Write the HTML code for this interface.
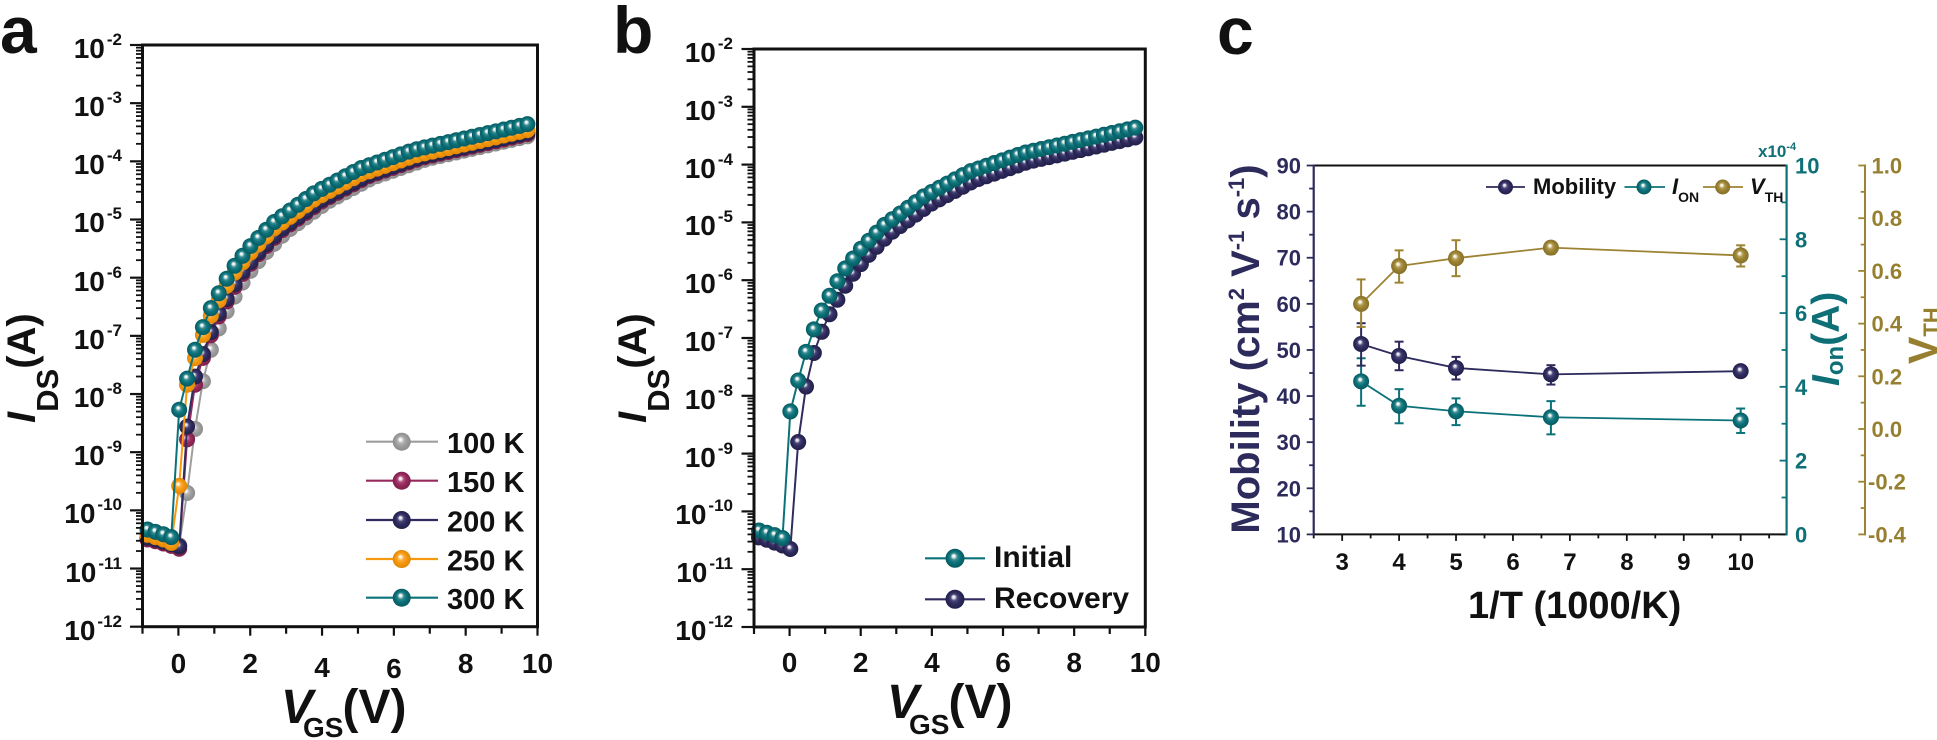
<!DOCTYPE html>
<html><head><meta charset="utf-8">
<style>
html,body{margin:0;padding:0;background:#fff;}
svg{display:block;}
text{font-family:"Liberation Sans",Arial,sans-serif;font-weight:bold;}
</style></head><body>
<svg id="s" width="1937" height="740" viewBox="0 0 1937 740" xmlns="http://www.w3.org/2000/svg">
<defs>
<radialGradient id="gG" cx="0.5" cy="0.5" r="0.5" fx="0.42" fy="0.36"><stop offset="0" stop-color="#ffffff"/><stop offset="0.15" stop-color="#f2f2f2"/><stop offset="0.35" stop-color="#b5b5b5"/><stop offset="0.6" stop-color="#9e9e9e"/><stop offset="1" stop-color="#8c8c8c"/></radialGradient>
<radialGradient id="gM" cx="0.5" cy="0.5" r="0.5" fx="0.42" fy="0.36"><stop offset="0" stop-color="#ffffff"/><stop offset="0.15" stop-color="#f0dde6"/><stop offset="0.35" stop-color="#b0487a"/><stop offset="0.6" stop-color="#972a5c"/><stop offset="1" stop-color="#7c1f4a"/></radialGradient>
<radialGradient id="gN" cx="0.5" cy="0.5" r="0.5" fx="0.42" fy="0.36"><stop offset="0" stop-color="#ffffff"/><stop offset="0.15" stop-color="#dddbe8"/><stop offset="0.35" stop-color="#4a4678"/><stop offset="0.6" stop-color="#302c5f"/><stop offset="1" stop-color="#221f4a"/></radialGradient>
<radialGradient id="gO" cx="0.5" cy="0.5" r="0.5" fx="0.42" fy="0.36"><stop offset="0" stop-color="#ffffff"/><stop offset="0.15" stop-color="#fdeccc"/><stop offset="0.35" stop-color="#f9ac3c"/><stop offset="0.6" stop-color="#f7990f"/><stop offset="1" stop-color="#e08805"/></radialGradient>
<radialGradient id="gT" cx="0.5" cy="0.5" r="0.5" fx="0.42" fy="0.36"><stop offset="0" stop-color="#ffffff"/><stop offset="0.15" stop-color="#e6f0f0"/><stop offset="0.35" stop-color="#3a8c92"/><stop offset="0.6" stop-color="#0b727a"/><stop offset="1" stop-color="#075a60"/></radialGradient>
<radialGradient id="gV" cx="0.5" cy="0.5" r="0.5" fx="0.42" fy="0.36"><stop offset="0" stop-color="#ffffff"/><stop offset="0.15" stop-color="#f2ecd9"/><stop offset="0.35" stop-color="#b29c55"/><stop offset="0.6" stop-color="#9c8332"/><stop offset="1" stop-color="#84702a"/></radialGradient>
</defs>
<rect x="0" y="0" width="1937" height="740" fill="#fff"/>
<g id="plots"></g>

<!-- Panel letters -->
<text x="0" y="53" font-size="66" fill="#111">a</text>
<text x="613" y="53" font-size="66" fill="#111">b</text>
<text x="1217" y="54" font-size="66" fill="#111">c</text>

<!-- Panel a y labels -->
<g font-size="28" fill="#111" text-anchor="end">
<text x="122" y="58">10<tspan font-size="17" dx="2" dy="-13">-2</tspan></text>
<text x="122" y="116">10<tspan font-size="17" dx="2" dy="-13">-3</tspan></text>
<text x="122" y="174">10<tspan font-size="17" dx="2" dy="-13">-4</tspan></text>
<text x="122" y="232">10<tspan font-size="17" dx="2" dy="-13">-5</tspan></text>
<text x="122" y="291">10<tspan font-size="17" dx="2" dy="-13">-6</tspan></text>
<text x="122" y="349">10<tspan font-size="17" dx="2" dy="-13">-7</tspan></text>
<text x="122" y="407">10<tspan font-size="17" dx="2" dy="-13">-8</tspan></text>
<text x="122" y="465">10<tspan font-size="17" dx="2" dy="-13">-9</tspan></text>
<text x="122" y="523">10<tspan font-size="17" dx="2" dy="-13">-10</tspan></text>
<text x="122" y="582">10<tspan font-size="17" dx="2" dy="-13">-11</tspan></text>
<text x="122" y="640">10<tspan font-size="17" dx="2" dy="-13">-12</tspan></text>
</g>
<!-- Panel a x labels -->
<g font-size="28" fill="#111" text-anchor="middle">
<text x="178.4" y="673">0</text>
<text x="250.2" y="673">2</text>
<text x="322" y="677">4</text>
<text x="393.9" y="678">6</text>
<text x="465.7" y="673">8</text>
<text x="537.5" y="673">10</text>
</g>
<!-- Panel a titles -->
<text transform="translate(35,423) rotate(-90)" font-size="40" fill="#111"><tspan font-style="italic">I</tspan><tspan font-size="31" dy="23">DS</tspan><tspan dy="-23">(A)</tspan></text>
<text x="281" y="723" font-size="48" fill="#111"><tspan font-style="italic">V</tspan><tspan font-size="28" dx="-10" dy="14">GS</tspan><tspan dy="-14" dx="-1">(V)</tspan></text>
<!-- Panel a legend text -->
<g font-size="29" fill="#111">
<text x="447" y="453">100 K</text>
<text x="447" y="492">150 K</text>
<text x="447" y="531.5">200 K</text>
<text x="447" y="570.5">250 K</text>
<text x="447" y="609">300 K</text>
</g>

<!-- Panel b y labels -->
<g font-size="28" fill="#111" text-anchor="end">
<text x="733" y="62">10<tspan font-size="17" dx="2" dy="-13">-2</tspan></text>
<text x="733" y="120">10<tspan font-size="17" dx="2" dy="-13">-3</tspan></text>
<text x="733" y="178">10<tspan font-size="17" dx="2" dy="-13">-4</tspan></text>
<text x="733" y="235">10<tspan font-size="17" dx="2" dy="-13">-5</tspan></text>
<text x="733" y="293">10<tspan font-size="17" dx="2" dy="-13">-6</tspan></text>
<text x="733" y="351">10<tspan font-size="17" dx="2" dy="-13">-7</tspan></text>
<text x="733" y="409">10<tspan font-size="17" dx="2" dy="-13">-8</tspan></text>
<text x="733" y="467">10<tspan font-size="17" dx="2" dy="-13">-9</tspan></text>
<text x="733" y="524">10<tspan font-size="17" dx="2" dy="-13">-10</tspan></text>
<text x="733" y="582">10<tspan font-size="17" dx="2" dy="-13">-11</tspan></text>
<text x="733" y="640">10<tspan font-size="17" dx="2" dy="-13">-12</tspan></text>
</g>
<g font-size="28" fill="#111" text-anchor="middle">
<text x="789.6" y="672">0</text>
<text x="860.7" y="672">2</text>
<text x="931.9" y="672">4</text>
<text x="1003" y="672">6</text>
<text x="1074.2" y="672">8</text>
<text x="1145.3" y="672">10</text>
</g>
<text transform="translate(646,423) rotate(-90)" font-size="40" fill="#111"><tspan font-style="italic">I</tspan><tspan font-size="31" dy="23">DS</tspan><tspan dy="-23">(A)</tspan></text>
<text x="887" y="718" font-size="48" fill="#111"><tspan font-style="italic">V</tspan><tspan font-size="28" dx="-10" dy="16">GS</tspan><tspan dy="-16" dx="-1">(V)</tspan></text>
<g font-size="30" fill="#111">
<text x="994" y="567">Initial</text>
<text x="994" y="608">Recovery</text>
</g>

<!-- Panel c labels -->
<g font-size="22" fill="#2d2a5c" text-anchor="end">
<text x="1301" y="173.5">90</text>
<text x="1301" y="219.6">80</text>
<text x="1301" y="265.7">70</text>
<text x="1301" y="311.8">60</text>
<text x="1301" y="357.9">50</text>
<text x="1301" y="404.1">40</text>
<text x="1301" y="450.2">30</text>
<text x="1301" y="496.3">20</text>
<text x="1301" y="542.4">10</text>
</g>
<g font-size="22" fill="#0e6f76">
<text x="1795" y="173.5">10</text>
<text x="1795" y="247.3">8</text>
<text x="1795" y="321.1">6</text>
<text x="1795" y="394.8">4</text>
<text x="1795" y="468.6">2</text>
<text x="1795" y="542.4">0</text>
<text x="1758" y="157" font-size="17">x10<tspan font-size="11" dy="-7">-4</tspan></text>
</g>
<g font-size="22" fill="#96802f">
<text x="1871.5" y="173.5">1.0</text>
<text x="1871.5" y="226.2">0.8</text>
<text x="1871.5" y="278.9">0.6</text>
<text x="1871.5" y="331.6">0.4</text>
<text x="1871.5" y="384.3">0.2</text>
<text x="1871.5" y="437">0.0</text>
<text x="1868" y="489.7">-0.2</text>
<text x="1868" y="542.4">-0.4</text>
</g>
<g font-size="24" fill="#111" text-anchor="middle">
<text x="1342.2" y="570">3</text>
<text x="1399.1" y="570">4</text>
<text x="1456.1" y="570">5</text>
<text x="1513" y="570">6</text>
<text x="1569.9" y="570">7</text>
<text x="1626.9" y="570">8</text>
<text x="1683.8" y="570">9</text>
<text x="1740.7" y="570">10</text>
</g>
<text x="1468" y="618" font-size="38" fill="#111">1/T (1000/K)</text>
<text transform="translate(1259,349) rotate(-90)" text-anchor="middle" font-size="40" fill="#2d2a5c">Mobility (cm<tspan font-size="22" dy="-15">2</tspan><tspan dy="15"> V</tspan><tspan font-size="22" dy="-15">-1</tspan><tspan dy="15"> s</tspan><tspan font-size="22" dy="-15">-1</tspan><tspan dy="15">)</tspan></text>
<text transform="translate(1839,386) rotate(-90)" font-size="39" fill="#0e6f76"><tspan font-style="italic">I</tspan><tspan font-size="24" dy="4">on</tspan><tspan dy="-4">(A)</tspan></text>
<text transform="translate(1937,364) rotate(-90)" font-size="41" fill="#96802f">V<tspan font-size="22" dy="2">TH</tspan></text>
<!-- Panel c legend -->
<g fill="#111">
<text x="1533" y="194" font-size="22">Mobility</text>
<text x="1672" y="194" font-size="22"><tspan font-style="italic">I</tspan><tspan font-size="14" dy="8">ON</tspan></text>
<text x="1750" y="194" font-size="22"><tspan font-style="italic">V</tspan><tspan font-size="14" dy="8">TH</tspan></text>
</g>
</svg>
<script>
(function(){
const NS='http://www.w3.org/2000/svg';
const G=document.getElementById('plots');
function el(tag,a){const e=document.createElementNS(NS,tag);for(const k in a)e.setAttribute(k,a[k]);G.appendChild(e);return e;}
function ln(x1,y1,x2,y2,c,w){el('line',{x1:x1,y1:y1,x2:x2,y2:y2,stroke:c,'stroke-width':w});}
function ball(x,y,r,g){el('circle',{cx:x,cy:y,r:r,fill:'url(#'+g+')'});}
function interp(K,v){
  if(v<=K[0][0]) return K[0][1];
  for(let i=1;i<K.length;i++){ if(v<=K[i][0]){const a=K[i-1],b=K[i];return a[1]+(b[1]-a[1])*(v-a[0])/(b[0]-a[0]);} }
  const n=K.length,a=K[n-2],b=K[n-1];return b[1]+(b[1]-a[1])*(v-b[0])/(b[0]-a[0]);
}
const TK=[[0.03,-8.27],[0.26,-7.69],[0.48,-7.2],[0.7,-6.82],[0.92,-6.5],[1.14,-6.25],[1.36,-6.0],[1.58,-5.78],[2.0,-5.46],[2.63,-5.06],[3.79,-4.54],[5.06,-4.12],[6.57,-3.8],[8.3,-3.56],[9.72,-3.36]];
const Tf=v=>interp(TK,v);
const N=49; const Vs=[]; for(let k=0;k<N;k++) Vs.push(-0.86+0.2204*k);
function curve(pre,f){return Vs.map((v,k)=>k<pre.length?pre[k]:f(v));}
const teal=curve([-10.33,-10.37,-10.41,-10.46],v=>Tf(v));
const orange=curve([-10.42,-10.46,-10.5,-10.56,-9.58,-7.84],v=>Tf(v-0.02)-0.1);
const navy=curve([-10.47,-10.5,-10.54,-10.58,-10.62,-8.56,-7.7],v=>Tf(v-0.2)-0.12);
const maroon=curve([-10.5,-10.53,-10.57,-10.61,-10.66,-8.78,-7.84],v=>Tf(v-0.22)-0.14);
const gray=curve([-10.48,-10.51,-10.54,-10.57,-10.6,-9.7,-8.6,-7.78,-7.24],v=>Tf(v-0.35)-0.16);
const recov=curve([-10.45,-10.49,-10.54,-10.59,-10.65,-8.8,-7.84],v=>Tf(v-0.15)-0.15);

function logPanel(L,R,T,B,series){
  const dec=(B-T)/10;
  const X=v=>L+(v+1)*(R-L)/11;
  const Y=lg=>T+(-2-lg)*dec;
  for(const s of series){
    const pts=Vs.map((v,k)=>X(v).toFixed(2)+','+Y(s.d[k]).toFixed(2)).join(' ');
    el('polyline',{points:pts,fill:'none',stroke:s.c,'stroke-width':2,'stroke-linejoin':'round'});
    Vs.forEach((v,k)=>ball(X(v),Y(s.d[k]),8,s.g));
  }
  for(let d=0;d<=10;d++){
    const y=T+d*dec; ln(L-12.5,y,L,y,'#111',2.2);
    if(d<10) for(let m=2;m<=9;m++){const yy=T+(d+1-Math.log10(m))*dec; ln(L-6.5,yy,L,yy,'#111',1.8);}
  }
  for(let v=-1;v<=10;v++){const x=X(v);const maj=(v%2===0);ln(x,B,x,B+(maj?9:7),'#111',2.2);}
  el('rect',{x:L,y:T,width:R-L,height:B-T,fill:'none',stroke:'#111','stroke-width':3});
}
logPanel(142.5,537.5,45,626.7,[
  {d:gray,c:'#9e9e9e',g:'gG'},{d:maroon,c:'#972a5c',g:'gM'},{d:navy,c:'#302c5f',g:'gN'},
  {d:orange,c:'#f7990f',g:'gO'},{d:teal,c:'#0b727a',g:'gT'}]);
logPanel(754,1145.3,49,627,[{d:recov,c:'#302c5f',g:'gN'},{d:teal,c:'#0b727a',g:'gT'}]);

// legend a
const la=[['#9e9e9e','gG',441.7],['#972a5c','gM',480.7],['#302c5f','gN',520],['#f7990f','gO',559],['#0b727a','gT',597.7]];
for(const [c,g,y] of la){ln(366,y,438,y,c,2.2);ball(401.7,y,9,g);}
// legend b
ln(925,558.3,985,558.3,'#0b727a',2.2);ball(955,558.3,9.5,'gT');
ln(925,599.3,985,599.3,'#302c5f',2.2);ball(955,599.3,9.5,'gN');

// Panel c
const cL=1313.7,cR=1786.6,cT=165.5,cB=534.4,cV=1865;
const cx=t=>cL+(t-2.5)*56.93, cy=l=>cB-(l-10)*4.611;
const NAVY='#2d2a5c',TEAL='#0b727a',OLIVE='#9c8332';
const Ts=[3.333,4,5,6.667,10];
const ser=[
 {c:TEAL,g:'gT',v:[43.2,37.9,36.7,35.4,34.7],e:[[48.2,37.9],[41.5,34.1],[39.5,33.7],[38.9,31.7],[37.3,32.0]]},
 {c:NAVY,g:'gN',v:[51.3,48.7,46.1,44.7,45.4],e:[[55.8,46.6],[51.8,45.6],[48.5,43.6],[46.7,42.5],[46.6,44.3]]},
 {c:OLIVE,g:'gV',v:[60.0,68.2,69.9,72.2,70.5],e:[[65.3,55.0],[71.6,64.6],[73.8,66.0],[73.5,70.8],[72.7,68.1]]}
];
for(const s of ser){
  s.e.forEach((e,i)=>{const x=cx(Ts[i]);ln(x,cy(e[0]),x,cy(e[1]),s.c,2);ln(x-4.5,cy(e[0]),x+4.5,cy(e[0]),s.c,2);ln(x-4.5,cy(e[1]),x+4.5,cy(e[1]),s.c,2);});
  el('polyline',{points:Ts.map((t,i)=>cx(t).toFixed(2)+','+cy(s.v[i]).toFixed(2)).join(' '),fill:'none',stroke:s.c,'stroke-width':1.8});
}
for(const s of ser){Ts.forEach((t,i)=>ball(cx(t),cy(s.v[i]),8,s.g));}
// axes c
for(let l=10;l<=90;l+=5){const y=cy(l);const maj=(l%10===0);ln(cL-(maj?7:4.5),y,cL,y,NAVY,1.8);}
for(let t=2.5;t<=10.51;t+=0.5){const x=cx(t);const maj=Math.abs(t-Math.round(t))<0.01;ln(x,cB,x,cB+(maj?6.5:4),'#111',1.8);}
for(let i=0;i<=10;i++){const y=cT+(10-i)*(cB-cT)/10;const maj=(i%2===0);ln(cR-(maj?7:5),y,cR,y,TEAL,1.8);}
for(let i=0;i<=14;i++){const y=cT+i*(cB-cT)/14;const maj=(i%2===0);ln(cV-(maj?6.7:4.3),y,cV,y,OLIVE,1.8);}
ln(cL,cT,cR,cT,'#111',2);ln(cL,cB,cR,cB,'#111',2);
ln(cL,cT-1,cL,cB+1,NAVY,2.2);ln(cR,cT-1,cR,cB+1,TEAL,2.2);ln(cV,cT-1,cV,cB+1,OLIVE,2);
// legend c
ln(1486,187,1525,187,NAVY,1.8);ball(1505.5,187,7.5,'gN');
ln(1624.5,187,1665,187,TEAL,1.8);ball(1644,187,7.5,'gT');
ln(1703,187,1743,187,OLIVE,1.8);ball(1722.7,187,7.5,'gV');
})();
</script>
</body></html>
